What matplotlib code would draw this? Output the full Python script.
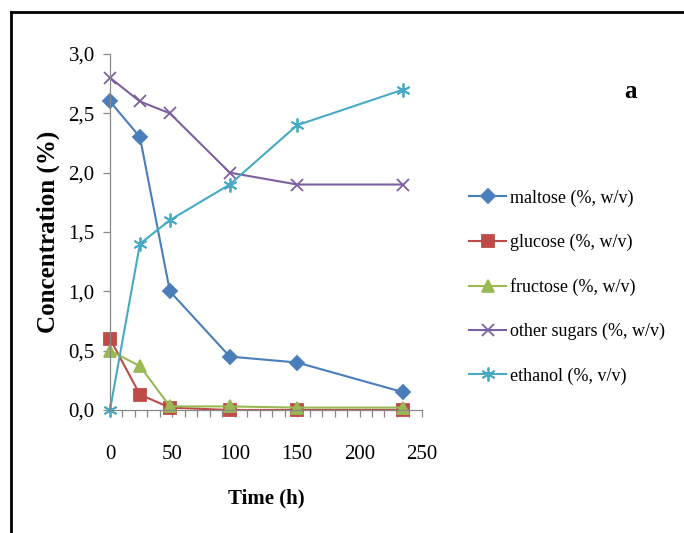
import numpy as np
import matplotlib
matplotlib.use("Agg")
import matplotlib.pyplot as plt
from matplotlib.lines import Line2D
from matplotlib.ticker import MultipleLocator, FuncFormatter

plt.rcParams["font.family"] = ["Liberation Serif", "DejaVu Serif"]

time_h = [0, 24, 48, 96, 150, 235]
maltose = [2.6, 2.3, 1.0, 0.45, 0.40, 0.15]
glucose = [0.60, 0.13, 0.02, 0.0, 0.0, 0.0]
fructose = [0.50, 0.37, 0.03, 0.03, 0.02, 0.02]
other_sugars = [2.8, 2.6, 2.5, 2.0, 1.9, 1.9]
ethanol = [0.0, 1.4, 1.6, 1.9, 2.4, 2.7]

labels = ["maltose (%, w/v)", "glucose (%, w/v)", "fructose (%, w/v)",
          "other sugars (%, w/v)", "ethanol (%, v/v)"]

series = [
    (maltose, "#4A7EBB", "D", 7),
    (glucose, "#BE4B48", "s", 8),
    (fructose, "#98B954", "^", 8),
    (other_sugars, "#7D60A0", "x", 9),
    (ethanol, "#46AAC5", (6, 2, 0), 10),
]

fig = plt.figure(figsize=(6.84, 5.33), dpi=100)
ax = fig.add_axes([0.1608, 0.2308, 0.456, 0.6679])

handles = []
for (vals, col, mk, ms), lab in zip(series, labels):
    ln, = ax.plot(time_h, vals, color=col, lw=1.5, marker=mk, ms=ms,
                  mec=col, mfc=col, mew=1.3, clip_on=False, label=lab)
    handles.append(ln)

ax.set_xlim(0, 250)
ax.set_ylim(0, 3.0)
ax.xaxis.set_major_locator(MultipleLocator(50))
ax.xaxis.set_minor_locator(MultipleLocator(10))
ax.yaxis.set_major_locator(MultipleLocator(0.5))
ax.yaxis.set_major_formatter(FuncFormatter(lambda v, p: f"{v:.1f}".replace(".", ",")))

for s in ["top", "right"]:
    ax.spines[s].set_visible(False)
for s in ["left", "bottom"]:
    ax.spines[s].set_color("#888888")
    ax.spines[s].set_linewidth(0.9)

ax.tick_params(axis="both", which="both", direction="out", color="#888888",
               labelsize=15, width=0.9)
ax.tick_params(axis="x", which="major", length=5, pad=20)
ax.tick_params(axis="x", which="minor", length=5)
ax.tick_params(axis="y", which="major", length=5, pad=6)

ax.set_xlabel("Time (h)", fontsize=15, fontweight="bold", labelpad=18)
ax.set_ylabel("Concentration (%)", fontsize=18, fontweight="bold", labelpad=6)

fig.legend(handles=handles, loc="center left", bbox_to_anchor=(0.662, 0.4615),
           frameon=False, fontsize=13, handlelength=2.05, handletextpad=0.2,
           labelspacing=1.5)

fig.text(0.922, 0.828, "a", fontsize=18, fontweight="bold", ha="center", va="center")

# frame lines (top and left)
fig.add_artist(Line2D([0.016, 1.0], [0.977, 0.977], color="black", lw=2,
                      transform=fig.transFigure))
fig.add_artist(Line2D([0.016, 0.016], [0.0, 0.977], color="black", lw=2,
                      transform=fig.transFigure))

fig.savefig("out.png", dpi=100)
